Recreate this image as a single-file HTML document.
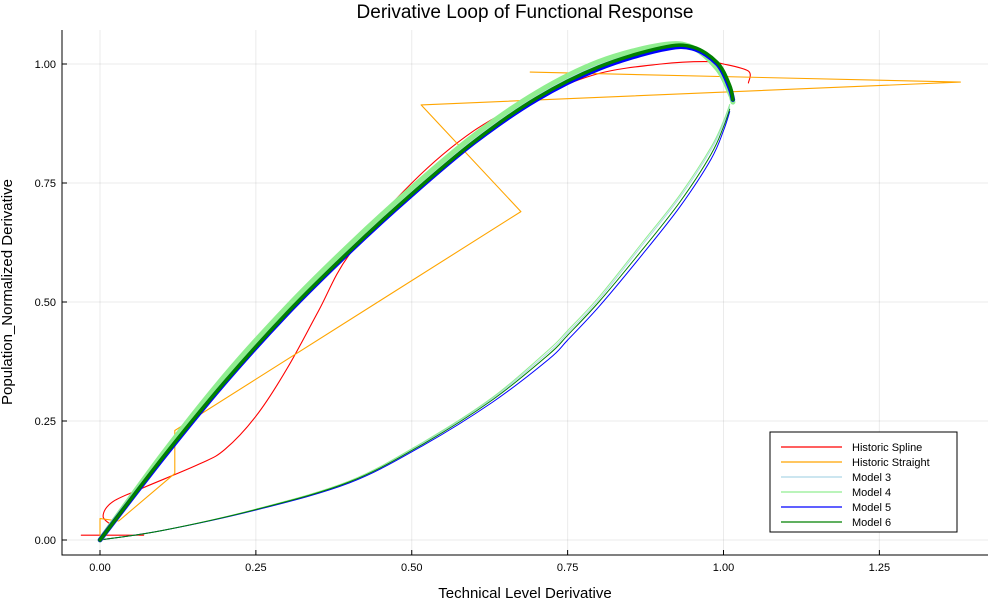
<!DOCTYPE html>
<html><head><meta charset="utf-8"><style>
body{margin:0;background:#fff}
svg text{font-family:"Liberation Sans",sans-serif}
</style></head><body>
<svg id="chart" width="1000" height="600" xmlns="http://www.w3.org/2000/svg">
<text x="525" y="18" text-anchor="middle" font-size="19" fill="#000">Derivative Loop of Functional Response</text>
<g id="grid"></g>
<g id="series"></g>
<g id="axes"></g>
<text x="525" y="598" text-anchor="middle" font-size="15">Technical Level Derivative</text>
<text transform="translate(12,292) rotate(-90)" text-anchor="middle" font-size="15">Population_Normalized Derivative</text>
<g id="legend"></g>
</svg>
<script>
const xTicks=[0,0.25,0.5,0.75,1.0,1.25];
const xTickLabels=["0.00","0.25","0.50","0.75","1.00","1.25"];
const yTicks=[0,0.25,0.5,0.75,1.0];
const yTickLabels=["0.00","0.25","0.50","0.75","1.00"];
const seriesNames=["Historic Spline","Historic Straight","Model 3","Model 4","Model 5","Model 6"];
const seriesColors=["red","orange","lightblue","lightgreen","blue","green"];
const splineX=[0.02,0.005,0.02,0.07,0.16,0.20,0.25,0.30,0.35,0.40,0.50,0.60,0.70,0.80,0.90,0.97,1.00,1.04,1.04];
const splineY=[0.03,0.05,0.08,0.11,0.16,0.19,0.26,0.36,0.48,0.60,0.75,0.86,0.93,0.98,1.00,1.005,1.0,0.985,0.96];
const splineTailX=[-0.03,0.07];
const splineTailY=[0.01,0.01];
const straightX=[0,0,0.03,0.12,0.12,0.675,0.515,1.38,0.69];
const straightY=[0,0.045,0.04,0.14,0.23,0.69,0.914,0.962,0.983];
const upperX=[0,0.1,0.2,0.3,0.4,0.5,0.6,0.7,0.8,0.9,0.95,0.99,1.01,1.015];
const upper5Y=[0,0.17,0.33,0.475,0.605,0.725,0.835,0.925,0.99,1.03,1.033,1.0,0.95,0.925];
const upper6Y=[0,0.172,0.332,0.477,0.607,0.727,0.837,0.928,0.994,1.034,1.036,1.003,0.955,0.925];
const upper4Y=[0,0.18,0.345,0.49,0.62,0.74,0.85,0.94,1.005,1.04,1.035,0.99,0.94,0.92];
const upper3Y=[0,0.176,0.34,0.485,0.615,0.735,0.845,0.935,1.0,1.038,1.034,0.995,0.945,0.92];
const lowerX=[1.01,1.0,0.98,0.93,0.87,0.80,0.75,0.72,0.63,0.52,0.40,0.25,0.10,0];
const lower5Y=[0.9,0.86,0.80,0.70,0.60,0.49,0.42,0.38,0.29,0.20,0.12,0.063,0.02,0];
const lower6Y=[0.905,0.868,0.81,0.71,0.61,0.50,0.43,0.39,0.295,0.203,0.122,0.064,0.02,0];
const lower4Y=[0.915,0.88,0.825,0.725,0.625,0.51,0.44,0.40,0.30,0.207,0.124,0.065,0.02,0];
const lower3Y=[0.91,0.875,0.82,0.72,0.62,0.505,0.435,0.395,0.298,0.205,0.123,0.064,0.02,0];
const NS="http://www.w3.org/2000/svg";
const L=62,R=988,T=30,B=555;
function sx(v){return 100+v*623.5;}
function sy(v){return 540-v*476;}
function mk(tag,attrs,parent){const e=document.createElementNS(NS,tag);for(const k in attrs)e.setAttribute(k,attrs[k]);parent.appendChild(e);return e;}
const grid=document.getElementById('grid'),axes=document.getElementById('axes'),ser=document.getElementById('series'),leg=document.getElementById('legend');
xTicks.forEach((v,i)=>{
 const g=mk('line',{x1:sx(v),x2:sx(v),y1:T,y2:B,stroke:'#000','stroke-opacity':0.08},grid);
 
 
 const t=mk('line',{x1:sx(v),x2:sx(v),y1:B,y2:B-5,stroke:'#000'},axes);
 
 
 const tx=mk('text',{x:sx(v),y:B+16,'text-anchor':'middle','font-size':11},axes);
 tx.textContent=xTickLabels[i];
 
 
});
yTicks.forEach((v,i)=>{
 const g=mk('line',{x1:L,x2:R,y1:sy(v),y2:sy(v),stroke:'#000','stroke-opacity':0.08},grid);
 
 
 const t=mk('line',{x1:L,x2:L+5,y1:sy(v),y2:sy(v),stroke:'#000'},axes);
 
 
 const tx=mk('text',{x:L-6,y:sy(v)+4,'text-anchor':'end','font-size':11},axes);
 tx.textContent=yTickLabels[i];
 
 
});
const ax=mk('path',{d:`M${L},${T}V${B}H${R}`,stroke:'#000',fill:'none'},axes);


function line(xs,ys,color,w,name,smooth){
 const P=xs.map((x,i)=>[sx(x),sy(ys[i])]);
 let d='M'+P[0][0].toFixed(1)+','+P[0][1].toFixed(1);
 for(let i=0;i<P.length-1;i++){
  if(!smooth){d+='L'+P[i+1][0].toFixed(1)+','+P[i+1][1].toFixed(1);continue;}
  const p0=P[Math.max(0,i-1)],p1=P[i],p2=P[i+1],p3=P[Math.min(P.length-1,i+2)];
  const c1=[p1[0]+(p2[0]-p0[0])/6,p1[1]+(p2[1]-p0[1])/6],c2=[p2[0]-(p3[0]-p1[0])/6,p2[1]-(p3[1]-p1[1])/6];
  d+='C'+c1.map(v=>v.toFixed(1))+' '+c2.map(v=>v.toFixed(1))+' '+p2.map(v=>v.toFixed(1));
 }
 const p=mk('path',{d:d,stroke:color,'stroke-width':w,fill:'none','stroke-linejoin':'round','stroke-linecap':'round'},ser);
 
 
}
line(splineX,splineY,'red',1.1,'historic-spline-line',true);
line(splineTailX,splineTailY,'red',1.1,'historic-spline-tail',false);
line(straightX,straightY,'orange',1.1,'historic-straight-line',false);
line(lowerX,lower3Y,'lightblue',1,'model-3-lower',true);
line(lowerX,lower4Y,'lightgreen',1,'model-4-lower',true);
line(lowerX,lower5Y,'blue',1,'model-5-lower',true);
line(lowerX,lower6Y,'green',1,'model-6-lower',true);
line(upperX,upper3Y,'lightblue',4,'model-3-upper',true);
line(upperX,upper4Y,'lightgreen',5,'model-4-upper',true);
line(upperX,upper5Y,'blue',4.5,'model-5-upper',true);
line(upperX,upper6Y,'green',3.5,'model-6-upper',true);
const lb=mk('rect',{x:770,y:432,width:187,height:100,fill:'#fff',stroke:'#000','stroke-width':1},leg);


seriesNames.forEach((n,i)=>{
 const y=447+i*15;
 const l=mk('line',{x1:781,x2:842,y1:y,y2:y,stroke:seriesColors[i],'stroke-width':1.2},leg);
 
 
 const t=mk('text',{x:852,y:y+4,'font-size':11},leg);
 t.textContent=n;
 
 
});
</script>
</body></html>
